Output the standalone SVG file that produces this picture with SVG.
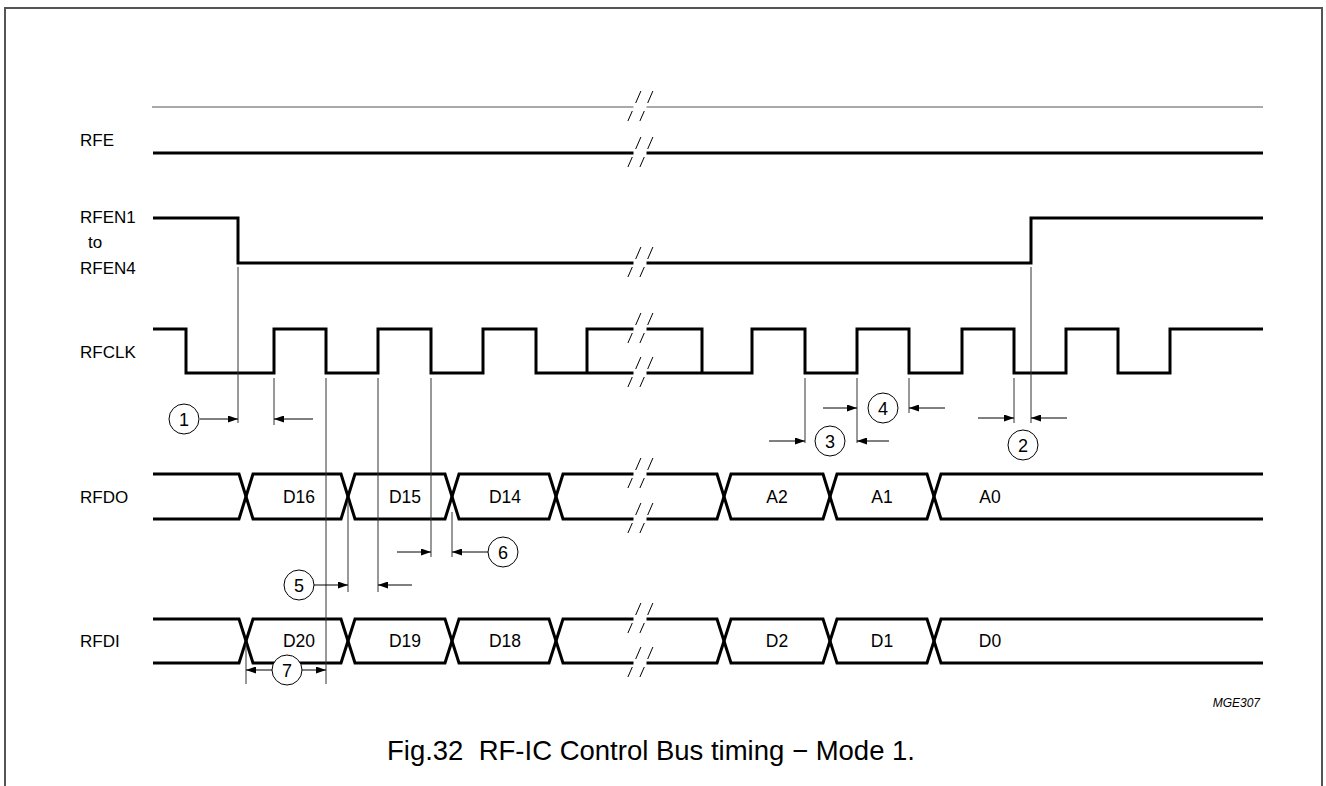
<svg xmlns="http://www.w3.org/2000/svg" xmlns:xlink="http://www.w3.org/1999/xlink" width="1326" height="786" viewBox="0 0 1326 786">
<style>
.sig{fill:none;stroke:#000;stroke-width:3}
.thinsig{fill:none;stroke:#555;stroke-width:1.2}
.ref{fill:none;stroke:#333;stroke-width:1}
.arr{fill:none;stroke:#000;stroke-width:1;marker-end:url(#ah)}
.cir{fill:#fff;stroke:#000;stroke-width:1}
.lbl{font-family:"Liberation Sans",Arial,sans-serif;font-size:17px;fill:#000}
.bus{font-family:"Liberation Sans",Arial,sans-serif;font-size:17.5px;fill:#000;text-anchor:middle}
.num{font-family:"Liberation Sans",Arial,sans-serif;font-size:18px;fill:#000;text-anchor:middle}
.cap{font-family:"Liberation Sans",Arial,sans-serif;font-size:27.5px;fill:#000;text-anchor:middle}
.code{font-family:"Liberation Sans",Arial,sans-serif;font-size:12px;font-style:italic;fill:#000;text-anchor:end}
</style>
<defs>
<marker id="ah" viewBox="0 0 10 7" refX="10" refY="3.5" markerWidth="10" markerHeight="7" markerUnits="userSpaceOnUse" orient="auto"><path d="M0,0 L10,3.5 L0,7 z" fill="#000"/></marker>
<g id="brk">
<rect x="-6.5" y="-3" width="13" height="6" fill="#fff"/>
<path d="M-4.3,-4 L0.9,-16 M7.7,-4 L12.9,-16 M-7.7,4 L-12.1,14 M4.3,4 L-0.1,14" stroke="#000" stroke-width="1" fill="none"/>
</g>
</defs>
<rect width="1326" height="786" fill="#fff"/>
<g id="frame"><path d="M5,786 V8 H1322 V786" fill="none" stroke="#555" stroke-width="2"/></g>

<g id="labels">
<text class="lbl" x="80" y="146">RFE</text>
<text class="lbl" x="80" y="223">RFEN1</text>
<text class="lbl" x="88" y="248">to</text>
<text class="lbl" x="80" y="274">RFEN4</text>
<text class="lbl" x="80" y="358">RFCLK</text>
<text class="lbl" x="80" y="503">RFDO</text>
<text class="lbl" x="80" y="647">RFDI</text>
</g>

<g id="sig-RFE">
<path class="thinsig" d="M152,107 H1263"/>
<path class="sig" d="M153,153 H1263"/>
<use xlink:href="#brk" x="640" y="107"/>
<use xlink:href="#brk" x="640" y="153"/>
</g>

<g id="sig-RFEN">
<path class="sig" d="M153,218 H238 V263 H1031 V218 H1263"/>
<use xlink:href="#brk" x="640" y="263"/>
</g>

<g id="sig-RFCLK">
<path class="sig" d="M153,329 H186 V373 H274 V329 H326 V373 H378 V329 H431 V373 H483 V329 H536 V373 H752 V329 H805 V373 H857 V329 H909 V373 H962 V329 H1014 V373 H1066 V329 H1118 V373 H1170 V329 H1263"/>
<path class="sig" d="M587,373 V329 H702 V373"/>
<use xlink:href="#brk" x="640" y="329"/>
<use xlink:href="#brk" x="640" y="373"/>
</g>

<g id="sig-RFDO">
<path class="sig" d="M153,474 H239 L253,519 H341 L355,474 H445 L459,519 H549 L563,474 H717 L731,519 H823 L837,474 H927 L941,519 H1263"/>
<path class="sig" d="M153,519 H239 L253,474 H341 L355,519 H445 L459,474 H549 L563,519 H717 L731,474 H823 L837,519 H927 L941,474 H1263"/>
<use xlink:href="#brk" x="640" y="474"/>
<use xlink:href="#brk" x="640" y="519"/>
<text class="bus" x="299" y="503">D16</text>
<text class="bus" x="405" y="503">D15</text>
<text class="bus" x="505" y="503">D14</text>
<text class="bus" x="777" y="503">A2</text>
<text class="bus" x="882" y="503">A1</text>
<text class="bus" x="990" y="503">A0</text>
</g>

<g id="sig-RFDI">
<path class="sig" d="M153,619 H239 L253,663 H341 L355,619 H445 L459,663 H549 L563,619 H717 L731,663 H823 L837,619 H927 L941,663 H1263"/>
<path class="sig" d="M153,663 H239 L253,619 H341 L355,663 H445 L459,619 H549 L563,663 H717 L731,619 H823 L837,663 H927 L941,619 H1263"/>
<use xlink:href="#brk" x="640" y="619"/>
<use xlink:href="#brk" x="640" y="663"/>
<text class="bus" x="299" y="647">D20</text>
<text class="bus" x="405" y="647">D19</text>
<text class="bus" x="505" y="647">D18</text>
<text class="bus" x="777" y="647">D2</text>
<text class="bus" x="882" y="647">D1</text>
<text class="bus" x="990" y="647">D0</text>
</g>

<g id="connectors">
<path class="ref" d="M238,267 V423 M274,378 V425 M326,378 V684 M348,500 V592 M378,378 V592 M431,378 V557 M452,512 V557 M246,644 V684 M805,378 V443 M857,378 V443 M909,378 V413 M1014,378 V423 M1031,267 V423"/>
<path class="arr" d="M200,419 H238"/>
<path class="arr" d="M313,419 H274"/>
<path class="arr" d="M823,408 H857"/>
<path class="arr" d="M945,408 H909"/>
<path class="arr" d="M769,441 H805"/>
<path class="arr" d="M889,441 H857"/>
<path class="arr" d="M978,418 H1014"/>
<path class="arr" d="M1067,418 H1031"/>
<path class="arr" d="M397,552 H431"/>
<path class="arr" d="M488,552 H452"/>
<path class="arr" d="M314,585 H348"/>
<path class="arr" d="M412,585 H378"/>
<path class="arr" d="M272,670 H246"/>
<path class="arr" d="M302,670 H326"/>
</g>

<g id="n1"><circle class="cir" cx="184" cy="419" r="15"/><text class="num" x="184" y="425.5">1</text></g>
<g id="n2"><circle class="cir" cx="1023" cy="445" r="15"/><text class="num" x="1023" y="451.5">2</text></g>
<g id="n3"><circle class="cir" cx="830" cy="441" r="15"/><text class="num" x="830" y="447.5">3</text></g>
<g id="n4"><circle class="cir" cx="883" cy="408" r="15"/><text class="num" x="883" y="414.5">4</text></g>
<g id="n5"><circle class="cir" cx="299" cy="585" r="15"/><text class="num" x="299" y="591.5">5</text></g>
<g id="n6"><circle class="cir" cx="503" cy="552" r="15"/><text class="num" x="503" y="558.5">6</text></g>
<g id="n7"><circle class="cir" cx="287" cy="670" r="15"/><text class="num" x="287" y="676.5">7</text></g>

<text class="code" x="1260" y="707">MGE307</text>
<text class="cap" x="651" y="760">Fig.32&#160;&#160;RF-IC Control Bus timing − Mode 1.</text>
</svg>
